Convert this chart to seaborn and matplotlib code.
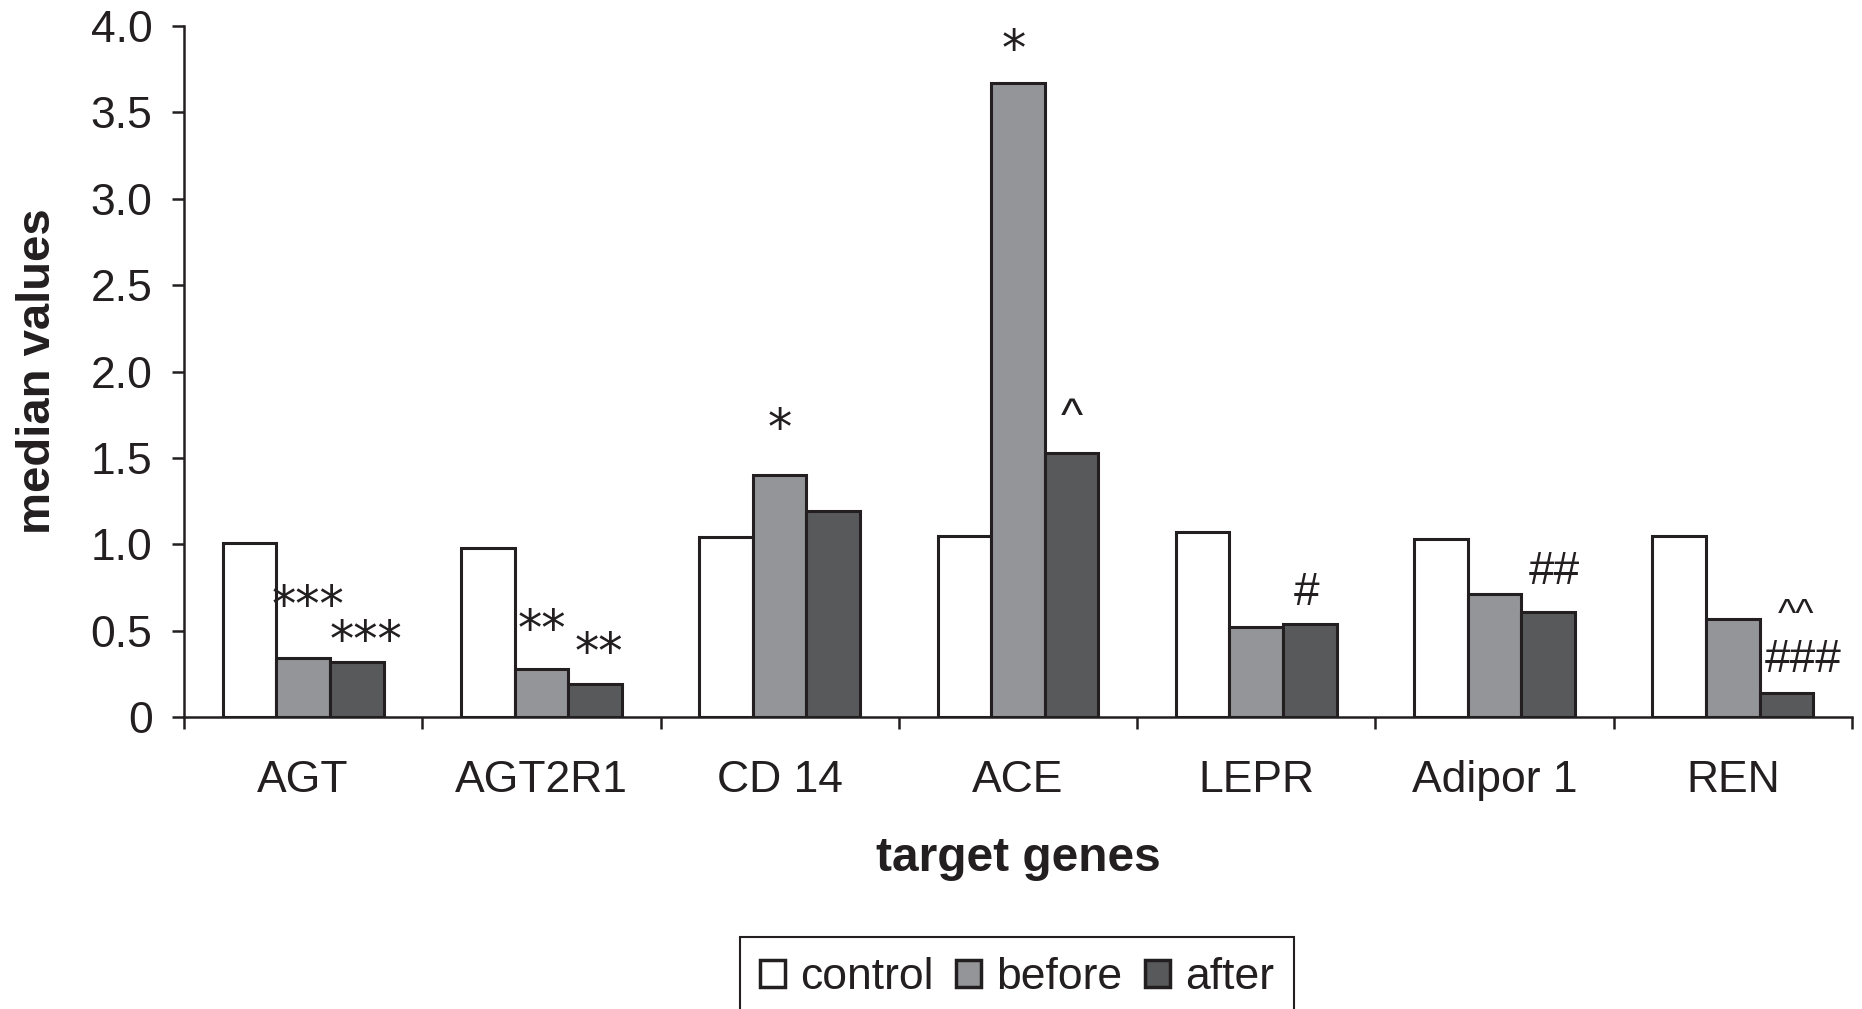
import matplotlib
matplotlib.use("Agg")
import matplotlib.pyplot as plt
import seaborn as sns
import pandas as pd
from matplotlib.ticker import FixedLocator, NullFormatter
from matplotlib.patches import Rectangle

# ---------------- data ----------------
genes = ["AGT", "AGT2R1", "CD 14", "ACE", "LEPR", "Adipor 1", "REN"]
groups = ["control", "before", "after"]
control = [1.01, 0.98, 1.04, 1.05, 1.07, 1.03, 1.05]
before = [0.34, 0.28, 1.40, 3.67, 0.52, 0.71, 0.57]
after = [0.32, 0.19, 1.19, 1.53, 0.54, 0.61, 0.14]
y_ticks = [0, 0.5, 1.0, 1.5, 2.0, 2.5, 3.0, 3.5, 4.0]
y_tick_labels = ["0", "0.5", "1.0", "1.5", "2.0", "2.5", "3.0", "3.5", "4.0"]

# significance marks: (gene index, group index, label)
marks = [
    (0, 1, "***"), (0, 2, "***"),
    (1, 1, "**"), (1, 2, "**"),
    (2, 1, "*"),
    (3, 1, "*"), (3, 2, "^"),
    (4, 2, "#"),
    (5, 2, "##"),
    (6, 2, "###"), (6, 2, "^^"),
]
# placement style for each mark: (dx px, baseline dy px, fontsize, family)
NARROW = ["Liberation Sans Narrow", "Liberation Sans"]
mark_style = [
    (5, 37, 35, "DejaVu Sans"), (9, 6, 35, "DejaVu Sans"),
    (0, 24, 35, "DejaVu Sans"), (4, 16, 35, "DejaVu Sans"),
    (0, 31, 35, "DejaVu Sans"),
    (-4, 18, 35, "DejaVu Sans"), (0, 23, 34, "Liberation Sans"),
    (-3, 19, 33, NARROW),
    (6, 28, 33, NARROW),
    (17, 21, 33, NARROW),
    (10, 67, 28, "Liberation Sans"),
]

df = pd.DataFrame({
    "gene": genes * 3,
    "group": [g for g in groups for _ in genes],
    "value": control + before + after,
})

# ---------------- style ----------------
sns.set_theme(style="white")
plt.rcParams["font.family"] = ["Liberation Sans", "DejaVu Sans"]
EDGE = "#231f20"
TXT = "#231f20"
palette = {"control": "#ffffff", "before": "#939598", "after": "#58595b"}

fig = plt.figure(figsize=(18.62, 10.09), dpi=100)
ax = fig.add_axes([0.0988, 0.2894, 0.8958, 0.6848])

sns.barplot(data=df, x="gene", y="value", hue="group", order=genes,
            hue_order=groups, palette=palette, edgecolor=EDGE, linewidth=2.2,
            width=0.675, gap=0, saturation=1, errorbar=None, ax=ax)

ax.set_xlim(-0.5, len(genes) - 0.5)
ax.set_ylim(0, 4.0)
ax.set_yticks(y_ticks)
ax.set_yticklabels(y_tick_labels)

# category boundaries as major ticks, labels at centers (minor)
ax.xaxis.set_major_locator(FixedLocator([i - 0.5 for i in range(len(genes) + 1)]))
ax.xaxis.set_major_formatter(NullFormatter())
ax.xaxis.set_minor_locator(FixedLocator(list(range(len(genes)))))
ax.set_xticklabels(genes, minor=True)
ax.tick_params(axis="x", which="major", direction="out", length=8.6, width=1.8,
               color=EDGE, bottom=True)
ax.tick_params(axis="x", which="minor", length=0, pad=31, labelsize=32,
               labelcolor=TXT, bottom=True)
ax.tick_params(axis="y", direction="out", length=8.6, width=1.8, color=EDGE,
               left=True, pad=14, labelsize=32, labelcolor=TXT)

for side in ["top", "right"]:
    ax.spines[side].set_visible(False)
for side in ["left", "bottom"]:
    ax.spines[side].set_color(EDGE)
    ax.spines[side].set_linewidth(1.8)

ax.set_xlabel("target genes", fontsize=34.5, fontweight="bold", color=TXT,
              labelpad=25)
ax.set_ylabel("median values", fontsize=34, fontweight="bold", color=TXT,
              labelpad=22)

# annotations
px2pt = 72.0 / fig.dpi
for (gi, si, lab), (dx, dy, fs, fam) in zip(marks, mark_style):
    bar = ax.containers[si][gi]
    xc = bar.get_x() + bar.get_width() / 2
    h = bar.get_height()
    ax.annotate(lab, xy=(xc, h), xytext=(dx * px2pt, dy * px2pt),
                textcoords="offset points", ha="center", va="baseline",
                fontsize=fs, family=fam, color=TXT)

# legend (frame drawn separately so its lower edge runs off the figure)
handles, labels = ax.get_legend_handles_labels()
if ax.get_legend() is not None:
    ax.get_legend().remove()
top_y = 1 - 937 / 1009
leg = fig.legend(handles, labels, loc="upper center",
                 bbox_to_anchor=(0.5462, top_y), ncol=3, fontsize=32,
                 frameon=False,
                 handlelength=0.56, handleheight=0.56, handletextpad=0.35,
                 columnspacing=0.5, borderpad=0.45, borderaxespad=0)
for t in leg.get_texts():
    t.set_color(TXT)
for h in leg.legend_handles:
    h.set_linewidth(2.5)

fig.canvas.draw()
bb = leg.get_window_extent().transformed(fig.transFigure.inverted())
frame = Rectangle((bb.x0, -0.05), bb.width, top_y + 0.05, transform=fig.transFigure,
                  fill=False, edgecolor=EDGE, linewidth=1.5, zorder=0)
fig.add_artist(frame)

fig.savefig("out.png", dpi=100)
